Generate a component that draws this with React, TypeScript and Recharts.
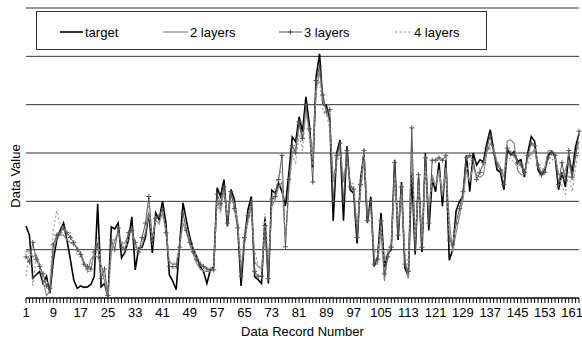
import { LineChart, Line, XAxis, YAxis, CartesianGrid } from "recharts";

// record numbers 1..163
const records = Array.from({ length: 163 }, (_, i) => String(i + 1));

const target = [
  1.49, 1.3, 0.41, 0.48, 0.55, 0.3, 0.45, 0.1, 0.78, 1.2,
  1.4, 1.55, 1.2, 0.8, 0.37, 0.2, 0.25, 0.22, 0.23, 0.28,
  0.45, 1.95, 0.23, 0.3, 0.02, 1.47, 1.43, 1.55, 0.83, 0.95,
  1.19, 1.68, 0.58, 1.03, 1.05, 1.26, 1.76, 0.93, 1.76, 1.62,
  2.0, 1.55, 0.48, 0.35, 0.17, 1.1, 1.97, 1.6, 1.25, 1.0,
  0.86, 0.65, 0.55, 0.3, 0.58, 0.65, 2.28, 2.1, 2.45, 1.48,
  2.25, 2.05, 1.5, 0.25, 1.2, 1.82, 2.1, 0.44, 0.38, 0.3,
  1.68, 0.3, 2.23, 2.17, 2.38, 2.2, 1.9, 2.58, 3.33, 3.23,
  3.75, 3.44, 4.16, 3.6, 2.7, 4.58, 5.05, 4.0, 3.98, 3.68,
  1.6, 3.0, 3.27, 1.6, 3.14, 2.23, 2.17, 1.13, 2.45, 3.0,
  1.55, 2.1, 0.65, 0.85, 1.76, 0.64, 0.92, 1.0, 2.86, 1.2,
  2.4, 0.62, 0.45, 2.6, 0.9, 2.5, 0.95, 3.0, 1.4, 2.45,
  2.2, 2.8, 1.9, 2.85, 0.78, 1.0, 1.8, 2.0, 2.1, 2.95,
  2.2, 3.0, 2.75, 2.86, 2.82, 3.2, 3.48, 3.06, 2.65, 2.6,
  2.24, 3.06, 2.96, 3.03, 2.82, 2.86, 2.5, 3.0, 3.34, 3.24,
  2.65, 2.54, 2.65, 2.96, 3.03, 2.93, 2.24, 2.6, 2.3, 2.93,
  2.6, 3.13, 3.4,
];

const twoLayers = [
  0.95, 1.0, 0.85, 0.9, 0.7, 0.35, 0.05, 0.15, 0.95, 1.25,
  1.3, 1.3, 1.2, 1.15, 1.1, 1.05, 0.95, 0.75, 0.55, 0.8,
  0.88, 0.85, 0.7, 0.35, 0.0, 0.95, 1.2, 1.35, 1.1, 1.15,
  1.3, 1.45, 1.05, 1.0, 1.1, 1.35, 1.75, 1.25, 1.6, 1.55,
  1.75, 1.4, 0.75, 0.7, 0.7, 1.1, 1.55, 1.35, 1.1, 0.9,
  0.72, 0.6, 0.55, 0.55, 0.55, 0.62, 2.05, 1.8, 2.25, 1.7,
  2.15, 1.95, 1.6, 0.6, 1.1, 1.6, 1.9, 0.75, 0.65, 0.6,
  1.3, 0.5, 1.9, 2.05, 2.3, 2.4, 1.15, 2.3, 3.0, 3.1,
  3.6, 3.25, 3.9, 3.45, 2.9, 4.3, 4.7, 4.05, 3.9, 3.6,
  2.45, 2.85, 3.15, 2.4, 2.95, 2.35, 2.2, 1.4, 2.2, 2.85,
  1.7, 1.9, 0.8, 0.7, 1.4, 0.35, 0.9, 1.1, 2.6, 1.4,
  2.2, 0.8, 0.4, 3.3, 1.1, 2.4, 1.15, 2.75, 1.75, 2.55,
  2.3, 2.65, 2.1, 2.7, 1.6, 0.95, 1.35, 1.7, 2.05, 2.65,
  2.4, 2.75, 2.55, 2.5, 2.55, 3.0, 3.2, 3.1, 2.8, 2.7,
  2.5, 3.25, 3.27, 3.2, 2.65, 2.55, 2.55, 2.9, 3.0, 3.05,
  2.7, 2.6, 2.7, 3.05, 3.05, 3.0, 2.55, 2.55, 2.65, 2.85,
  2.45, 2.95, 3.25,
];

const threeLayers = [
  0.85, 0.75, 1.15, 0.8, 0.65, 0.5, 0.25, 0.2, 1.1, 1.3,
  1.35, 1.45, 1.35, 1.25, 1.15, 1.0, 0.9, 0.7, 0.65, 0.6,
  0.95, 1.1, 0.4, 0.6, 0.05, 1.2, 1.0, 1.45, 1.05, 1.0,
  1.35, 1.4, 1.15, 0.95, 1.25, 1.55, 2.1, 1.2, 1.65, 1.7,
  1.85, 1.35, 0.65, 0.65, 0.65, 1.05, 1.75, 1.4, 1.15, 0.95,
  0.8, 0.7, 0.65, 0.6, 0.58, 0.58, 2.15, 1.95, 2.3, 1.55,
  2.2, 1.85, 1.45, 0.45, 1.25, 1.7, 2.0, 0.55, 0.45, 0.45,
  1.5, 0.4, 2.05, 2.1, 2.45, 2.95, 1.06, 2.45, 3.15, 3.0,
  3.65, 3.3, 4.0, 3.5, 2.4, 4.5, 4.8, 4.2, 3.85, 3.9,
  2.0, 2.95, 3.2, 2.0, 3.05, 2.3, 2.25, 1.25, 2.35, 3.05,
  1.6, 2.0, 0.7, 0.8, 1.6, 0.5, 0.85, 1.05, 2.8, 1.3,
  2.3, 0.7, 0.55, 3.52, 1.0, 2.55, 1.05, 2.9, 1.55, 2.85,
  2.85, 2.9, 2.85, 2.95, 1.2, 1.1, 1.55, 1.85, 2.2, 2.9,
  2.95, 2.85, 2.45, 2.6, 2.8, 3.1, 3.35, 3.0, 2.75, 2.65,
  2.35, 3.1, 3.0, 2.95, 2.8, 2.75, 2.6, 2.95, 3.2, 3.15,
  2.75, 2.55, 2.6, 2.9, 3.0, 2.95, 2.35, 2.8, 2.45, 3.05,
  2.5, 2.95, 3.45,
];

const fourLayers = [
  0.45, 1.0, 0.25, 0.85, 0.6, 0.45, 0.3, 0.35, 1.4, 1.8,
  1.55, 1.45, 1.3, 1.35, 1.05, 0.9, 0.85, 0.65, 0.55, 0.55,
  1.0, 1.25, 0.55, 0.45, 0.05, 1.05, 1.15, 1.35, 1.2, 0.9,
  1.25, 1.3, 1.2, 0.9, 1.15, 1.45, 1.95, 1.1, 1.7, 1.5,
  1.8, 1.45, 0.7, 0.72, 0.72, 1.0, 1.6, 1.45, 1.2, 1.0,
  0.85, 0.75, 0.68, 0.62, 0.6, 0.62, 2.0, 1.75, 2.2, 1.65,
  2.05, 1.9, 1.5, 0.65, 1.4, 1.55, 1.8, 0.95, 0.7, 0.55,
  1.75, 0.8, 1.9, 2.25, 2.55, 2.65, 1.2, 2.2, 2.95, 2.8,
  3.4, 3.05, 3.85, 3.35, 2.75, 4.3, 4.5, 3.85, 3.8, 3.5,
  2.4, 2.75, 3.0, 2.55, 2.8, 2.4, 2.35, 1.5, 2.3, 3.1,
  1.9, 1.75, 1.0, 0.9, 1.5, 0.7, 1.0, 1.15, 2.5, 1.55,
  2.15, 0.95, 0.7, 3.0, 1.2, 2.35, 1.25, 2.7, 1.85, 2.45,
  2.35, 2.6, 2.25, 2.6, 1.3, 1.15, 1.6, 1.7, 2.0, 2.6,
  2.8, 2.7, 2.5, 2.7, 2.75, 2.95, 3.1, 3.05, 2.85, 2.7,
  2.6, 2.85, 2.9, 2.8, 2.7, 2.8, 2.7, 2.75, 2.95, 3.1,
  2.8, 2.65, 2.7, 2.75, 2.85, 2.9, 2.6, 2.3, 2.15, 2.6,
  2.2, 2.7, 3.15,
];

const yTicks = [0, 1, 2, 3, 4, 5, 6];

const data = records.map((rec, i) => ({
  rec,
  target: target[i],
  l2: twoLayers[i],
  l3: threeLayers[i],
  l4: fourLayers[i],
}));

const FONT = "'Liberation Sans', Arial, sans-serif";

// only every 8th record gets a label, but every record gets a tick mark
function RecordTick(props: any) {
  const { x, y, payload, index } = props;
  if (index % 8 !== 0) return <g />;
  return (
    <text x={x} y={y + 12} textAnchor="middle" fontSize={13} fill="#000" fontFamily={FONT}>
      {payload.value}
    </text>
  );
}

function PlusDot(props: any) {
  const { cx, cy, index } = props;
  if (cx == null || cy == null) return <g key={index} />;
  return (
    <path
      key={index}
      d={`M${cx - 2.5},${cy}h5M${cx},${cy - 2.5}v5`}
      stroke="#555"
      strokeWidth={1}
    />
  );
}

// legend box and y-axis title drawn over the chart
function Overlay() {
  return (
    <svg
      width={582}
      height={340}
      style={{ position: "absolute", left: 0, top: 0, pointerEvents: "none" }}
    >
      <rect x={36.5} y={11.5} width={450} height={38} fill="#fff" stroke="#333" />
      <g fontFamily={FONT} fontSize={13} fill="#000">
        <line x1={60} x2={83} y1={32} y2={32} stroke="#000" strokeWidth={1.6} />
        <text x={85} y={36.5}>target</text>
        <line x1={163} x2={188} y1={32} y2={32} stroke="#888" strokeWidth={1.2} />
        <text x={190} y={36.5}>2 layers</text>
        <line x1={279} x2={302} y1={32} y2={32} stroke="#555" strokeWidth={1} />
        <path d="M288,32h5M290.5,29.5v5" stroke="#555" />
        <text x={304} y={36.5}>3 layers</text>
        <line x1={395} x2={412} y1={32} y2={32} stroke="#888" strokeWidth={1.2} strokeDasharray="2 2.5" />
        <text x={414} y={36.5}>4 layers</text>
      </g>
      <text
        transform="translate(20,176) rotate(-90)"
        textAnchor="middle"
        fontFamily={FONT}
        fontSize={13}
        fill="#000"
      >
        Data Value
      </text>
    </svg>
  );
}

export default function App() {
  return (
    <div style={{ position: "absolute", left: 0, top: 0, width: 582, height: 340, background: "#fff" }}>
      <LineChart
        width={582}
        height={340}
        data={data}
        margin={{ top: 8, right: 3, left: 26, bottom: 0 }}
      >
        <CartesianGrid vertical={false} stroke="#333" strokeWidth={1} />
        <XAxis
          dataKey="rec"
          interval={0}
          height={42}
          tickSize={5}
          tickMargin={2}
          tick={<RecordTick />}
          axisLine={{ stroke: "#000" }}
          tickLine={{ stroke: "#000" }}
          label={{
            value: "Data Record Number",
            position: "insideBottom",
            offset: 4,
            fontSize: 13,
            fill: "#000",
            fontFamily: FONT,
          }}
        />
        <YAxis hide domain={[0, 6]} ticks={yTicks} allowDataOverflow />
        <Line
          type="linear"
          dataKey="target"
          stroke="#000"
          strokeWidth={1.6}
          dot={false}
          isAnimationActive={false}
        />
        <Line
          type="linear"
          dataKey="l2"
          stroke="#888"
          strokeWidth={1.2}
          dot={false}
          isAnimationActive={false}
        />
        <Line
          type="linear"
          dataKey="l3"
          stroke="#555"
          strokeWidth={1}
          dot={<PlusDot />}
          isAnimationActive={false}
        />
        <Line
          type="linear"
          dataKey="l4"
          stroke="#999"
          strokeWidth={1.2}
          strokeDasharray="2 2.5"
          dot={false}
          isAnimationActive={false}
        />
      </LineChart>
      <Overlay />
    </div>
  );
}
